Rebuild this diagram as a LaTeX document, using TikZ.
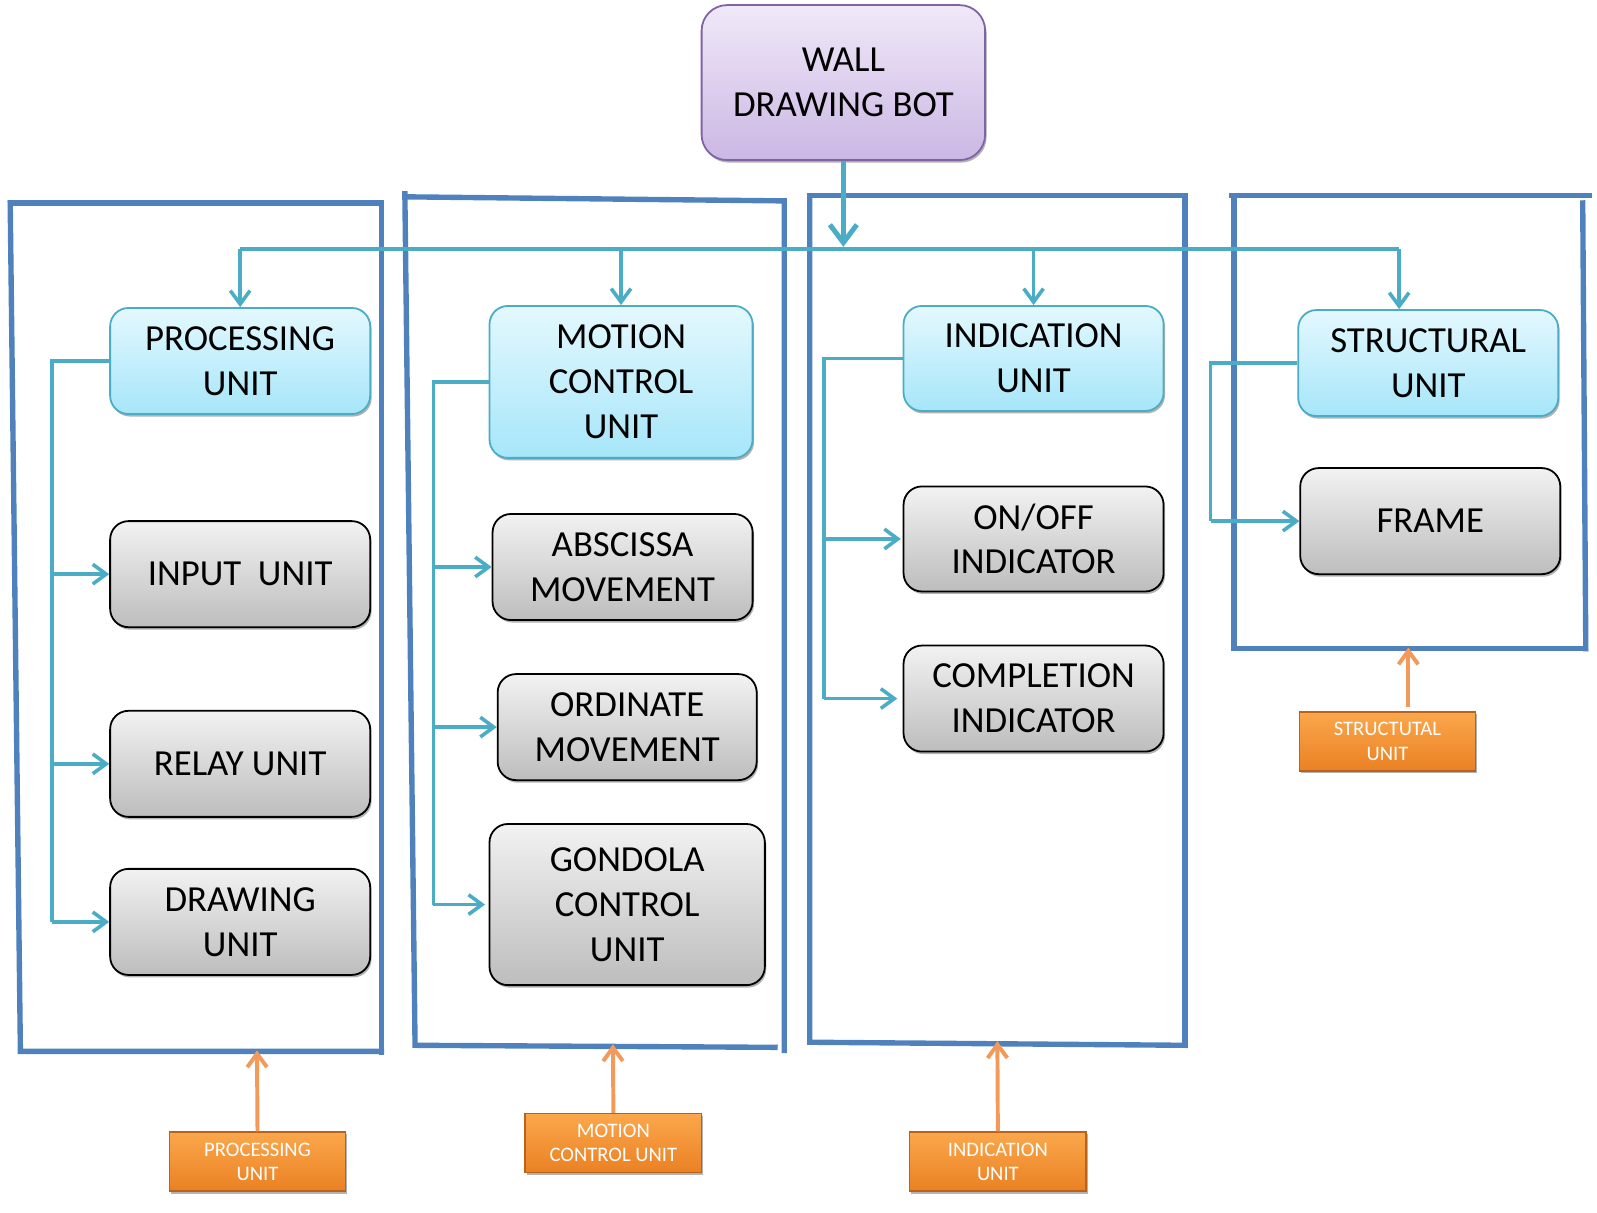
\documentclass[tikz,border=0pt]{standalone}
\usepackage{fontspec}
\setmainfont{Carlito}
\usetikzlibrary{arrows.meta,shadows}
\definecolor{frameblue}{HTML}{4F81BD}
\definecolor{linkcyan}{HTML}{4BACC6}
\definecolor{cyantop}{HTML}{E4F8FE}
\definecolor{cyanbot}{HTML}{A6E6F9}
\definecolor{greytop}{HTML}{F2F2F2}
\definecolor{greybot}{HTML}{BDBDBD}
\definecolor{purptop}{HTML}{F0E9F8}
\definecolor{purpbot}{HTML}{CBB7E4}
\definecolor{purpline}{HTML}{8064A2}
\definecolor{orangetop}{HTML}{FBA74C}
\definecolor{orangebot}{HTML}{EA8123}
\definecolor{orangeline}{HTML}{B8621C}
\definecolor{orangearrow}{HTML}{F39A5A}
\begin{document}
\begin{tikzpicture}[x=0.02cm,y=-0.02cm,
  sz/.style 2 args={minimum width=#1*0.02cm,minimum height=#2*0.02cm},
  shd/.style={drop shadow={shadow xshift=0.8pt,shadow yshift=-1.4pt,opacity=0.3,fill=black}},
  basebox/.style={inner sep=0pt,align=center,font=\fontsize{20.5}{25}\selectfont,shd},
  cbox/.style={basebox,rounded corners=0.36cm,draw=linkcyan,line width=1pt,top color=cyantop,bottom color=cyanbot},
  gbox/.style={basebox,rounded corners=0.36cm,draw=black,line width=1pt,top color=greytop,bottom color=greybot},
  pbox/.style={basebox,rounded corners=0.5cm,draw=purpline,line width=1pt,top color=purptop,bottom color=purpbot},
  obox/.style={inner sep=0pt,align=center,font=\fontsize{11.5}{13.5}\selectfont,text=white,draw=orangeline,line width=0.8pt,top color=orangetop,bottom color=orangebot,shd,sz={173}{58}},
  frameline/.style={draw=frameblue,line width=3pt,line cap=rect},
  link/.style={draw=linkcyan,line width=2pt},
  linkarrow/.style={link,-{Straight Barb[length=7.5pt,width=11pt]}},
  mainarrow/.style={draw=linkcyan,line width=2.8pt,-{Straight Barb[length=10pt,width=15pt]}},
  oarrow/.style={draw=orangearrow,line width=2.2pt,-{Straight Barb[length=7.5pt,width=11pt]}}]
\useasboundingbox (0,0) rectangle (1566,1189.4);

% group frames
\draw[frameline] (10,199) -- (374,199) -- (374,1032);
\draw[frameline] (10,199) -- (20,1031) -- (374,1031);
\draw[frameline] (397,190) -- (407,1025) -- (760,1027);
\draw[frameline] (397,193) -- (769,197) -- (769,1030);
\draw[frameline] (794,192) -- (1162,192) -- (1162,1025);
\draw[frameline] (794,192) -- (794,1022) -- (1162,1025);
\draw[frameline] (1208,192) -- (1558,192);
\draw[frameline] (1210,192) -- (1210,636) -- (1555,636);
\draw[frameline] (1552,199) -- (1555,636);

% main node
\node[pbox,sz={278}{152}] (top) at (827,81) {WALL\\DRAWING BOT};

% unit heads
\node[cbox,sz={255}{104}] (pu) at (235.5,354) {PROCESSING\\UNIT};
\node[cbox,sz={258}{149}] (mu) at (609,374.5) {MOTION\\CONTROL\\UNIT};
\node[cbox,sz={255}{103}] (iu) at (1013.5,351.5) {INDICATION\\UNIT};
\node[cbox,sz={255}{104}] (su) at (1400.5,356) {STRUCTURAL\\UNIT};

% children
\node[gbox,sz={255}{104}] (inp) at (235.5,563) {INPUT~~UNIT};
\node[gbox,sz={255}{104}] (rel) at (235.5,749) {RELAY UNIT};
\node[gbox,sz={255}{104}] (drw) at (235.5,904) {DRAWING\\UNIT};
\node[gbox,sz={255}{104}] (abs) at (610.5,556) {ABSCISSA\\MOVEMENT};
\node[gbox,sz={254}{104}] (ord) at (615,713) {ORDINATE\\MOVEMENT};
\node[gbox,sz={270}{158}] (gon) at (615,887) {GONDOLA\\CONTROL\\UNIT};
\node[gbox,sz={255}{103}] (onf) at (1013.5,528.5) {ON/OFF\\INDICATOR};
\node[gbox,sz={255}{104}] (cmp) at (1013.5,685) {COMPLETION\\INDICATOR};
\node[gbox,sz={255}{104}] (frm) at (1402.5,511) {FRAME};

% labels
\node[obox] (lp) at (252.5,1139) {PROCESSING\\UNIT};
\node[obox] (lm) at (601.5,1121) {MOTION\\CONTROL UNIT};
\node[obox] (li) at (978.5,1139) {INDICATION\\UNIT};
\node[obox] (ls) at (1360.5,727) {STRUCTUTAL\\UNIT};

% coordinates
\coordinate (bus) at (0,244);
\coordinate (mainend) at (827,242);
\coordinate (sdrop) at (1372,0);
\coordinate (b1) at (51,0);
\coordinate (b2) at (425,0);
\coordinate (b3) at (808,0);
\coordinate (b4) at (1187,0);
\coordinate (f1) at (252,1030);
\coordinate (f2) at (601,1024);
\coordinate (f3) at (978,1021);
\coordinate (f4) at (1381,635);
\coordinate (lsx) at (1381,693);

% top connectors
\draw[mainarrow] (top.south) -- (mainend);
\draw[link] (bus -| pu.north) -- (bus -| sdrop);
\draw[linkarrow] (bus -| pu.north) -- (pu.north);
\draw[linkarrow] (bus -| mu.north) -- (mu.north);
\draw[linkarrow] (bus -| iu.north) -- (iu.north);
\draw[linkarrow] (bus -| sdrop) -- (sdrop |- su.north);

% branches
\draw[link] (pu.west) -- (pu.west -| b1) -- (b1 |- drw.west);
\foreach \c in {inp,rel,drw} \draw[linkarrow] (b1 |- \c.west) -- (\c.west);
\draw[link] (mu.west) -- (mu.west -| b2) -- (b2 |- gon.west);
\foreach \c in {abs,ord} \draw[linkarrow] (b2 |- \c.west) -- (\c.west);
\draw[linkarrow] (b2 |- gon.west) -- ([xshift=-2pt]gon.west);
\draw[link] (iu.west) -- (iu.west -| b3) -- (b3 |- cmp.west);
\draw[linkarrow] (b3 |- onf.west) -- ([xshift=-1pt]onf.west);
\draw[linkarrow] (b3 |- cmp.west) -- ([xshift=-3pt]cmp.west);
\draw[link] (su.west) -- (su.west -| b4) -- (b4 |- frm.west);
\draw[linkarrow] (b4 |- frm.west) -- (frm.west);

% label arrows
\draw[oarrow] (lp.north) -- (f1);
\draw[oarrow] (lm.north) -- (f2);
\draw[oarrow] (li.north) -- (f3);
\draw[oarrow] (lsx) -- (f4);
\end{tikzpicture}
\end{document}
